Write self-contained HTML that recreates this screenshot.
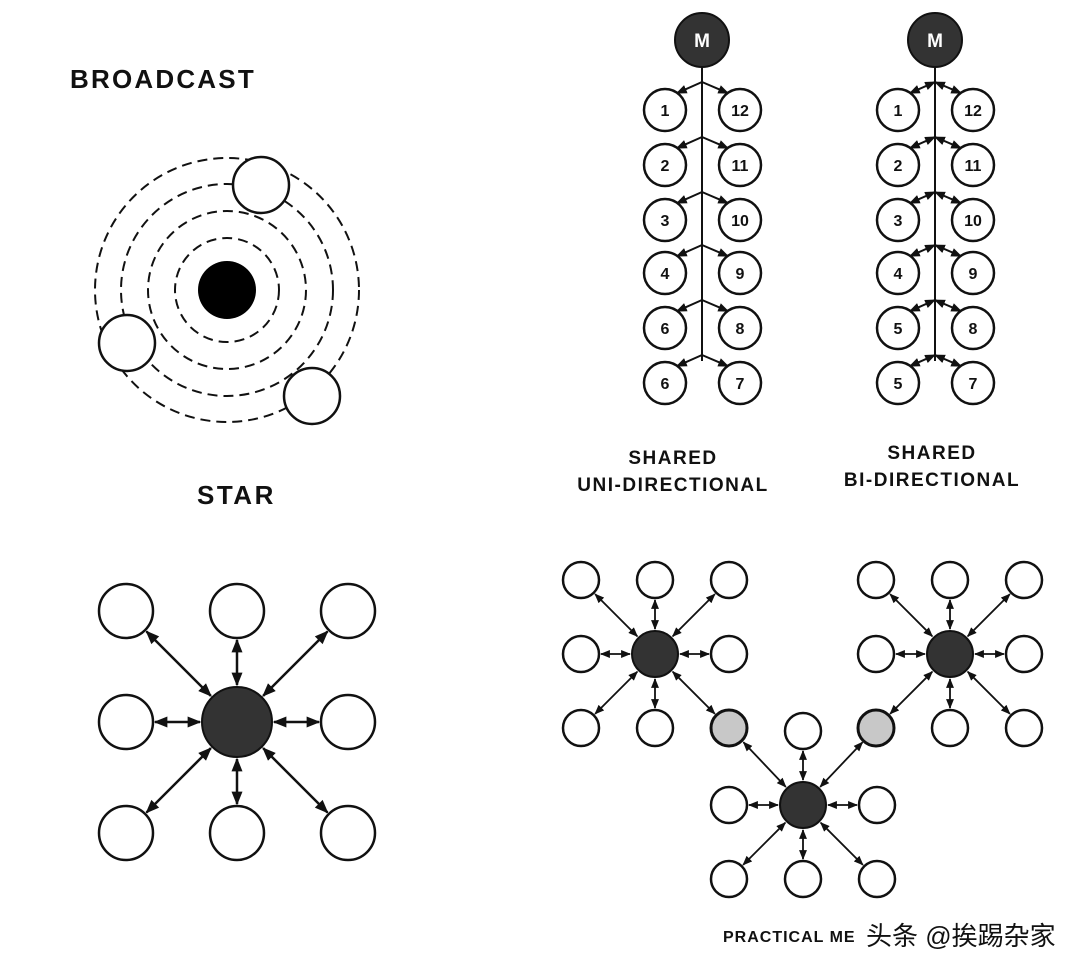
<!DOCTYPE html>
<html><head><meta charset="utf-8"><style>
html,body{margin:0;padding:0;background:#fff;}
svg{display:block}
text{font-family:"Liberation Sans","Noto Sans CJK SC",sans-serif;font-weight:bold;fill:#111}
</style></head><body>
<svg id="s" width="1086" height="974" viewBox="0 0 1086 974" xmlns="http://www.w3.org/2000/svg">
<defs>
<marker id="a" viewBox="0 0 10 10" refX="9" refY="5" markerWidth="5.5" markerHeight="5.5" orient="auto-start-reverse" markerUnits="strokeWidth"><path d="M0,1 L10,5 L0,9 z" fill="#111"/></marker>
</defs>
<text x="70" y="88" font-size="26" letter-spacing="2.2">BROADCAST</text>
<g fill="none" stroke="#111" stroke-width="2" stroke-dasharray="10,6">
<circle cx="227" cy="290" r="52"/><circle cx="227" cy="290" r="79"/><circle cx="227" cy="290" r="106"/><circle cx="227" cy="290" r="132"/>
</g>
<circle cx="227" cy="290" r="29" fill="#000"/>
<g fill="#fff" stroke="#111" stroke-width="2.5">
<circle cx="261" cy="185" r="28"/><circle cx="127" cy="343" r="28"/><circle cx="312" cy="396" r="28"/>
</g>
<text x="197" y="504" font-size="26" letter-spacing="2.5">STAR</text>
<text x="673" y="464" font-size="19" text-anchor="middle" letter-spacing="1.5">SHARED</text>
<text x="673" y="491" font-size="19" text-anchor="middle" letter-spacing="1.5">UNI-DIRECTIONAL</text>
<text x="932" y="459" font-size="19" text-anchor="middle" letter-spacing="1.5">SHARED</text>
<text x="932" y="486" font-size="19" text-anchor="middle" letter-spacing="1.5">BI-DIRECTIONAL</text>
<text x="723" y="942" font-size="16" letter-spacing="1">PRACTICAL ME</text>
<text x="866" y="945" font-size="26" style="font-weight:normal">头条 @挨踢杂家</text>
<g id="g"></g>
</svg>
<script>
var g=document.getElementById('g'),NS='http://www.w3.org/2000/svg';
function el(t,a){var e=document.createElementNS(NS,t);for(var k in a)e.setAttribute(k,a[k]);g.appendChild(e);return e;}
function circ(x,y,r,f,sw){el('circle',{cx:x,cy:y,r:r,fill:f,stroke:'#111','stroke-width':sw||2.5});}
function arr(x1,y1,x2,y2,r1,r2,both,sw){var dx=x2-x1,dy=y2-y1,l=Math.hypot(dx,dy),ux=dx/l,uy=dy/l;
var a={x1:x1+ux*r1,y1:y1+uy*r1,x2:x2-ux*r2,y2:y2-uy*r2,stroke:'#111','stroke-width':sw||2,'marker-end':'url(#a)'};
if(both)a['marker-start']='url(#a)';el('line',a);}
function hub(cx,cy,s,rh,rn,nodes,sw){nodes.forEach(function(n){arr(cx,cy,cx+n[0]*s,cy+n[1]*s,rh+2,rn+2,true,sw);});
nodes.forEach(function(n){circ(cx+n[0]*s,cy+n[1]*s,rn,n[2]||'#fff',n[2]?3:2.5);});circ(cx,cy,rh,'#333',2);}
var all=[[-1,-1],[0,-1],[1,-1],[-1,0],[1,0],[-1,1],[0,1],[1,1]];
hub(237,722,111,35,27,all,2.5);
hub(655,654,74,23,18,[[-1,-1],[0,-1],[1,-1],[-1,0],[1,0],[-1,1],[0,1],[1,1,'#c8c8c8']],1.8);
hub(950,654,74,23,18,[[-1,-1],[0,-1],[1,-1],[-1,0],[1,0],[-1,1,'#c8c8c8'],[0,1],[1,1]],1.8);
(function(){var cx=803,cy=805,s=74;var ns=[[0,-1],[-1,0],[1,0],[-1,1],[0,1],[1,1]];
ns.forEach(function(n){arr(cx,cy,cx+n[0]*s,cy+n[1]*s,25,20,true,1.8);});
arr(cx,cy,729,727,25,21,true,1.8);arr(cx,cy,877,727,25,21,true,1.8);
ns.forEach(function(n){circ(cx+n[0]*s,cy+n[1]*s,18,'#fff');});circ(cx,cy,23,'#333',2);})();
function bus(mx,lx,rx,both){var rows=[110,165,220,273,328,383];
el('line',{x1:mx,y1:60,x2:mx,y2:rows[5]-22,stroke:'#111','stroke-width':2});
var R=[12,11,10,9,8,7],L=both?[1,2,3,4,5,5]:[1,2,3,4,6,6];
rows.forEach(function(y,i){
arr(mx,y-28,lx+10,y-16,0,2,both,2);arr(mx,y-28,rx-10,y-16,0,2,both,2);
circ(lx,y,21,'#fff',2.5);circ(rx,y,21,'#fff',2.5);
var t=el('text',{x:lx,y:y+6,'font-size':16,'text-anchor':'middle'});t.textContent=L[i];
t=el('text',{x:rx,y:y+6,'font-size':16,'text-anchor':'middle'});t.textContent=R[i];});
circ(mx,40,27,'#333',2);var t=el('text',{x:mx,y:47,'font-size':19,'text-anchor':'middle'});t.textContent='M';t.style.fill='#fff';}
bus(702,665,740,false);bus(935,898,973,true);
</script>
</body></html>
